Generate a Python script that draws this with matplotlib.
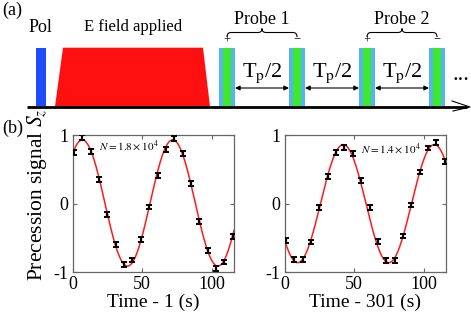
import numpy as np
import matplotlib
matplotlib.use("Agg")
import matplotlib.pyplot as plt
from matplotlib.patches import Rectangle, Polygon, PathPatch
from matplotlib.path import Path

plt.rcParams["font.family"] = "serif"
plt.rcParams["font.serif"] = ["Liberation Serif", "DejaVu Serif"]
plt.rcParams["mathtext.fontset"] = "stix"
plt.rcParams["axes.unicode_minus"] = False

# ---- data ----
time = [1, 7, 13, 19, 25, 31, 37, 43, 49, 55, 61, 67, 73, 79, 85, 91, 97, 103, 109, 115]
signal_early = [0.75, 0.96, 0.755, 0.35, -0.16, -0.59, -0.89, -0.82, -0.52, -0.05,
                0.41, 0.79, 0.95, 0.73, 0.29, -0.265, -0.68, -0.95, -0.85, -0.48]
signal_late = [-0.54, -0.81, -0.81, -0.56, -0.055, 0.40, 0.74, 0.82, 0.73, 0.34,
               -0.055, -0.55, -0.83, -0.83, -0.47, -0.02, 0.46, 0.81, 0.885, 0.61]
sig_err = 0.035

# sinusoid fit parameters: amplitude, period (s), time of peak (s), offset
fit_early = (0.92, 65.0, 6.9, 0.01)
fit_late = (0.86, 65.5, 42.1, 0.0)

labels_N = [r"$N = 1.8\times10^4$", r"$N = 1.4\times10^4$"]
xlabels = ["Time - 1 (s)", "Time - 301 (s)"]

# ---- timing diagram (pixel units of the figure) ----
probe_edges = [219, 289, 359, 429]
probe_w = 16
pulse_top, baseline = 47.7, 106.5

W, H = 471, 316
fig = plt.figure(figsize=(W / 100, H / 100), dpi=100)

top_h = 118
axa = fig.add_axes([0, 1 - top_h / H, 1, top_h / H])
axa.set_xlim(0, W)
axa.set_ylim(top_h, 0)
axa.axis("off")

axa.text(2, 10, "(a)", fontsize=13, va="center", ha="left")
axa.text(40, 27, "Pol", fontsize=13, ha="center", va="center")
axa.text(133, 27, "E field applied", fontsize=12, ha="center", va="center")

axa.add_patch(Rectangle((36, pulse_top), 10, baseline - pulse_top, color="#1f4cff", lw=0))
axa.add_patch(Polygon([(55, baseline), (63, pulse_top), (203, pulse_top), (210, baseline)],
                      closed=True, color="#ff1010", lw=0))

for x in probe_edges:
    axa.add_patch(Rectangle((x, pulse_top), probe_w, baseline - pulse_top, color="#55b4f0", lw=0))
    axa.add_patch(Rectangle((x + 4.3, pulse_top), 7.7, baseline - pulse_top, color="#3ee82a", lw=0))

for a, b in zip(probe_edges[:-1], probe_edges[1:]):
    axa.annotate("", xy=(b, 88), xytext=(a + probe_w, 88),
                 arrowprops=dict(arrowstyle="<|-|>", color="k", lw=0.8,
                                 mutation_scale=7, shrinkA=0, shrinkB=0))
    axa.text((a + probe_w + b) / 2, 73, r"T$_\mathrm{p}$/2", fontsize=16,
             ha="center", va="center")

axa.text(461, 76, "...", fontsize=16, ha="center", va="center")


def brace(ax, x0, x1, y_end, y_line, y_tip):
    xm = (x0 + x1) / 2
    r = 4
    verts = [(x0, y_end), (x0, y_line), (x0 + r, y_line),
             (xm - r, y_line), (xm, y_line), (xm, y_tip),
             (xm, y_line), (xm + r, y_line),
             (x1 - r, y_line), (x1, y_line), (x1, y_end)]
    codes = [Path.MOVETO, Path.CURVE3, Path.CURVE3,
             Path.LINETO, Path.CURVE3, Path.CURVE3,
             Path.CURVE3, Path.CURVE3,
             Path.LINETO, Path.CURVE3, Path.CURVE3]
    ax.add_patch(PathPatch(Path(verts, codes), fill=False, lw=0.8, color="k"))


for i, (p0, p1) in enumerate([(probe_edges[0], probe_edges[1]), (probe_edges[2], probe_edges[3])]):
    xa, xb = p0 + 8, p1 + 8
    brace(axa, xa, xb, 37, 32.5, 28.5)
    axa.text((xa + xb) / 2, 20, f"Probe {i + 1}", fontsize=13, ha="center", va="center")
    axa.text(xa, 41, "+", fontsize=9, ha="center", va="center")
    axa.text(xb, 40, "\u2212", fontsize=9, ha="center", va="center")

axa.plot([27, 467], [baseline + 0.5, baseline + 0.5], color="k", lw=2, solid_capstyle="butt")
axa.plot([452, 470, 453], [101, 107, 111], color="k", lw=0.8)

# ---- precession panels ----
t_fine = np.linspace(0, 116, 500)
lefts = [72.7, 284.7]
n_pos = [(0.35, 0.92), (0.66, 0.9)]
datasets = [(signal_early, fit_early), (signal_late, fit_late)]
for k, (sig, fit) in enumerate(datasets):
    ax = fig.add_axes([lefts[k] / W, 1 - 272.3 / H, 161.3 / W, 137.3 / H])
    amp, period, tpk, off = fit
    ax.plot(t_fine, amp * np.cos(2 * np.pi * (t_fine - tpk) / period) + off,
            color="#ff1a1a", lw=1.1, zorder=2)
    ax.errorbar(time, sig, yerr=sig_err, fmt="none", ecolor="k", elinewidth=1.6,
                capsize=2.2, capthick=1.4, zorder=3)
    ax.set_xlim(0, 116)
    ax.set_ylim(-1, 1)
    ax.set_xticks([0, 50, 100])
    ax.set_yticks([-1, 0, 1])
    ax.tick_params(direction="in", top=True, right=True, length=3, width=0.8,
                   color="0.4", labelsize=13, pad=3)
    for s in ax.spines.values():
        s.set_color("0.4")
        s.set_linewidth(0.9)
    ax.set_xlabel(xlabels[k], fontsize=14, labelpad=0.5)
    ax.text(n_pos[k][0], n_pos[k][1], labels_N[k],
            transform=ax.transAxes, fontsize=8, ha="center", va="center")

fig.text(2 / W, 1 - 128 / H, "(b)", fontsize=13, ha="left", va="center")
fig.text(37 / W, 1 - 195 / H, r"Precession signal $S_z$", fontsize=15.5,
         rotation=90, ha="center", va="center")

fig.savefig("out.png", dpi=100)
